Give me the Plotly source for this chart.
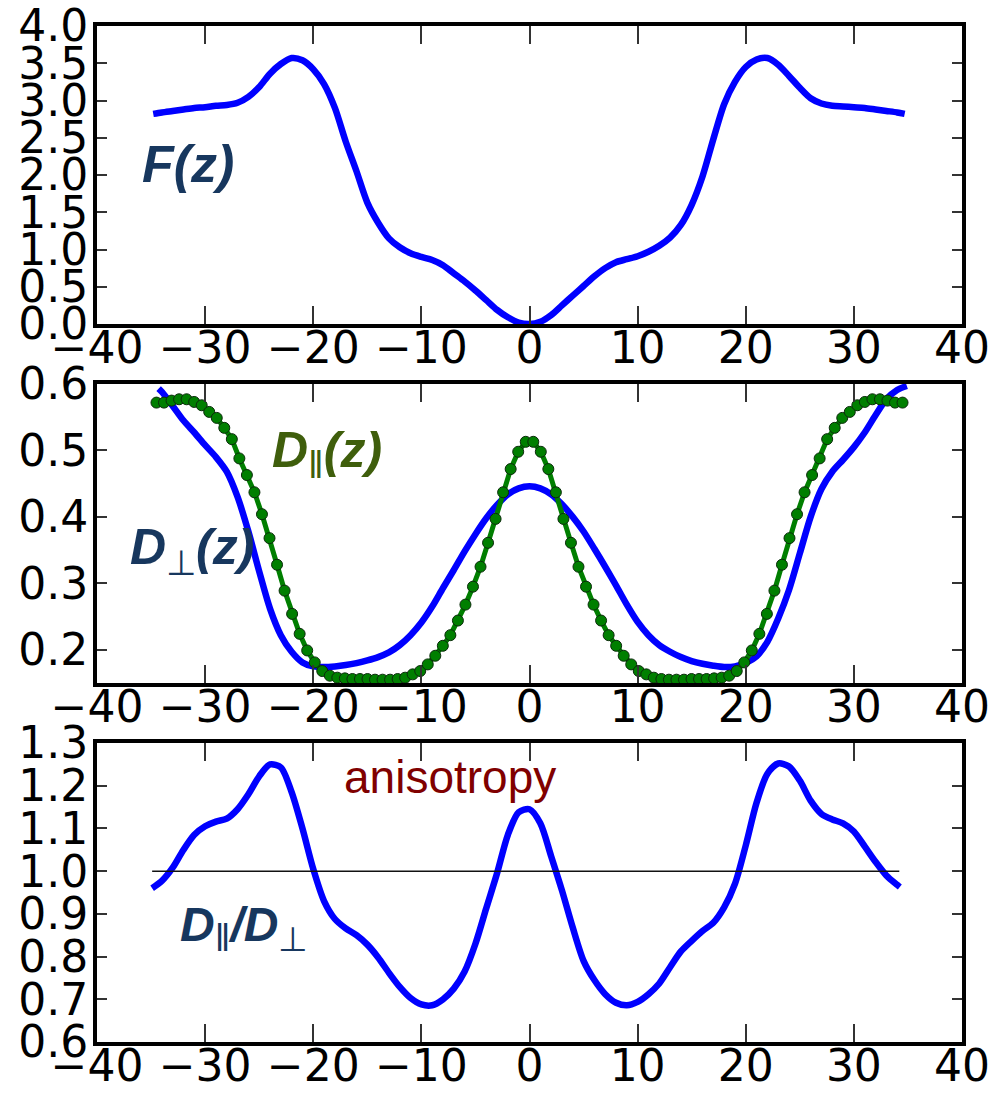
import numpy as np
import plotly.graph_objects as go

# ---------------- tick definitions ----------------
x_tick_vals = [-40, -30, -20, -10, 0, 10, 20, 30, 40]
x_tick_text = ["\u221240", "\u221230", "\u221220", "\u221210", "0", "10", "20", "30", "40"]

f_tick_vals = [0.0, 0.5, 1.0, 1.5, 2.0, 2.5, 3.0, 3.5, 4.0]
f_tick_text = ["0.0", "0.5", "1.0", "1.5", "2.0", "2.5", "3.0", "3.5", "4.0"]

d_tick_vals = [0.2, 0.3, 0.4, 0.5, 0.6]
d_tick_text = ["0.2", "0.3", "0.4", "0.5", "0.6"]

r_tick_vals = [0.6, 0.7, 0.8, 0.9, 1.0, 1.1, 1.2, 1.3]
r_tick_text = ["0.6", "0.7", "0.8", "0.9", "1.0", "1.1", "1.2", "1.3"]

# ---------------- data ----------------
# free energy F(z)
z_free = [-34.8] + list(range(-34, 35)) + [34.7]
free_energy = [2.82,
               2.84, 2.86, 2.88, 2.90, 2.91, 2.93, 2.94, 2.97, 3.05, 3.18,
               3.36, 3.49, 3.57, 3.54, 3.42, 3.22, 2.90, 2.45, 2.05, 1.63,
               1.36, 1.15, 1.03, 0.95, 0.90, 0.86, 0.79, 0.68, 0.57, 0.45,
               0.32, 0.19, 0.09, 0.02,
               0.00,
               0.03, 0.12, 0.25, 0.38, 0.51, 0.64, 0.75, 0.83, 0.87, 0.91,
               0.97, 1.05, 1.16, 1.33, 1.60, 1.98, 2.48, 2.95, 3.25, 3.45,
               3.55, 3.57, 3.48, 3.33, 3.17, 3.03, 2.96, 2.93, 2.92, 2.91,
               2.90, 2.88, 2.86, 2.84,
               2.82]

# perpendicular diffusion D_perp(z)
z_perp = [-34.3] + list(range(-34, 35)) + [34.9]
d_perp = [0.593,
          0.588, 0.567, 0.545, 0.527, 0.508, 0.490, 0.468, 0.430, 0.378, 0.318,
          0.262, 0.222, 0.197, 0.181, 0.175, 0.174, 0.175, 0.177, 0.180, 0.184,
          0.189, 0.196, 0.207, 0.222, 0.241, 0.265, 0.293, 0.320, 0.348, 0.374,
          0.398, 0.418, 0.434, 0.443,
          0.446,
          0.443, 0.434, 0.419, 0.400, 0.378, 0.352, 0.325, 0.297, 0.268, 0.242,
          0.222, 0.207, 0.197, 0.189, 0.183, 0.179, 0.176, 0.174, 0.175, 0.180,
          0.190, 0.212, 0.247, 0.290, 0.345, 0.400, 0.442, 0.468, 0.486, 0.505,
          0.527, 0.553, 0.577, 0.591,
          0.597]

# parallel diffusion D_par(z), sampled at 100 positions
z_par = np.linspace(-34.5, 34.5, 100)
d_par = [0.572, 0.572, 0.575, 0.577, 0.577, 0.573, 0.568, 0.558, 0.549, 0.534,
         0.517, 0.488, 0.463, 0.437, 0.404, 0.368, 0.328, 0.289, 0.254, 0.224,
         0.199, 0.181, 0.168, 0.161, 0.158, 0.157, 0.156, 0.156, 0.156, 0.155,
         0.155, 0.155, 0.156, 0.158, 0.163, 0.168, 0.178, 0.191, 0.206, 0.222,
         0.244, 0.268, 0.295, 0.325, 0.361, 0.397, 0.437, 0.472, 0.498, 0.513,
         0.513, 0.498, 0.472, 0.437, 0.397, 0.361, 0.325, 0.295, 0.268, 0.244,
         0.222, 0.206, 0.191, 0.178, 0.168, 0.163, 0.158, 0.156, 0.155, 0.155,
         0.155, 0.156, 0.156, 0.156, 0.157, 0.158, 0.161, 0.168, 0.181, 0.199,
         0.224, 0.254, 0.289, 0.328, 0.368, 0.404, 0.437, 0.463, 0.488, 0.517,
         0.534, 0.549, 0.558, 0.568, 0.573, 0.577, 0.577, 0.575, 0.572, 0.572]

# anisotropy D_par / D_perp
z_ratio = [-34.9] + list(range(-34, 35)) + [34.25]
ratio = [0.960,
         0.977, 1.008, 1.050, 1.085, 1.105, 1.116, 1.123, 1.145, 1.180, 1.222,
         1.250, 1.243, 1.185, 1.100, 1.005, 0.930, 0.888, 0.866, 0.850, 0.828,
         0.798, 0.762, 0.729, 0.703, 0.688, 0.686, 0.700, 0.725, 0.765, 0.830,
         0.913, 0.995, 1.085, 1.138,
         1.145,
         1.112, 1.035, 0.955, 0.868, 0.790, 0.745, 0.712, 0.692, 0.686, 0.694,
         0.712, 0.737, 0.775, 0.812, 0.837, 0.860, 0.879, 0.915, 0.970, 1.060,
         1.160, 1.228, 1.252, 1.245, 1.212, 1.165, 1.134, 1.121, 1.112, 1.093,
         1.058, 1.022, 0.990, 0.968,
         0.963]

ref_line_z = [-34.9, 34.2]
ref_line_val = [1.0, 1.0]

# ---------------- figure ----------------
W, H = 997, 1093
BLUE = "#0000ff"
GREEN = "#007f00"
NAVY = "#17375e"
OLIVE = "#3f5e0c"
DARKRED = "#800000"

fig = go.Figure()
spl = dict(shape="spline", smoothing=0.8)
fig.add_trace(go.Scatter(x=z_free, y=free_energy, mode="lines",
                         line=dict(color=BLUE, width=6.5, **spl), xaxis="x", yaxis="y"))
fig.add_trace(go.Scatter(x=z_perp, y=d_perp, mode="lines",
                         line=dict(color=BLUE, width=6.5, **spl), xaxis="x2", yaxis="y2"))
fig.add_trace(go.Scatter(x=z_par, y=d_par, mode="lines+markers",
                         line=dict(color=GREEN, width=5),
                         marker=dict(size=11, color=GREEN, line=dict(color="#0b2b0b", width=1)),
                         xaxis="x2", yaxis="y2"))
fig.add_trace(go.Scatter(x=z_ratio, y=ratio, mode="lines",
                         line=dict(color=BLUE, width=6.5, **spl), xaxis="x3", yaxis="y3"))
fig.add_trace(go.Scatter(x=ref_line_z, y=ref_line_val, mode="lines",
                         line=dict(color="#111111", width=1.5), xaxis="x3", yaxis="y3"))

xdom = [97 / W, 962 / W]
tickfont = dict(family="DejaVu Sans", size=44, color="black")


def xaxis(anchor):
    return dict(domain=xdom, range=[-40, 40], tickvals=x_tick_vals, ticktext=x_tick_text,
                ticks="inside", ticklen=18, tickwidth=1.5, tickcolor="#333333",
                showline=True, linecolor="black", linewidth=4, mirror="ticks",
                showgrid=False, zeroline=False, tickfont=tickfont, anchor=anchor,
                automargin=False, tickangle=0, ticklabelstandoff=-18)


def yaxis(anchor, top, bottom, rng, tv, tt):
    return dict(domain=[1 - bottom / H, 1 - top / H], range=rng, tickvals=tv, ticktext=tt,
                ticks="inside", ticklen=10, tickwidth=1.5, tickcolor="#333333",
                showline=True, linecolor="black", linewidth=4, mirror="ticks",
                showgrid=False, zeroline=False, tickfont=tickfont, anchor=anchor,
                automargin=False, ticklabelstandoff=-4)


fig.update_layout(
    width=W, height=H, margin=dict(l=0, r=0, t=0, b=0, autoexpand=False),
    paper_bgcolor="white", plot_bgcolor="white", showlegend=False,
    xaxis=xaxis("y"),
    xaxis2=xaxis("y2"),
    xaxis3=xaxis("y3"),
    yaxis=yaxis("x", 26, 324, [0, 4], f_tick_vals, f_tick_text),
    yaxis2=yaxis("x2", 384, 683, [0.15, 0.6], d_tick_vals, d_tick_text),
    yaxis3=yaxis("x3", 743, 1042, [0.6, 1.3], r_tick_vals, r_tick_text),
)

lab = dict(family="Liberation Sans, Arial, sans-serif", size=52, color=NAVY)
sub_par = "<sub><span style='font-size:38px'>\u2016</span></sub>"
sub_perp = "<sub>\u22a5</sub>"
fig.add_annotation(x=-36.0, y=2.15, xref="x", yref="y", xanchor="left", yanchor="middle",
                   text="<b><i>F(z)</i></b>", showarrow=False, font=lab)
fig.add_annotation(x=-37.1, y=0.35, xref="x2", yref="y2", xanchor="left", yanchor="middle",
                   text="<b><i>D</i></b>" + sub_perp + "<b><i>(z)</i></b>", showarrow=False,
                   font=dict(lab, size=50))
fig.add_annotation(x=-24.0, y=0.495, xref="x2", yref="y2", xanchor="left", yanchor="middle",
                   text="<b><i>D</i></b>" + sub_par + "<b><i>(z)</i></b>", showarrow=False,
                   font=dict(lab, size=50, color=OLIVE))
fig.add_annotation(x=-32.5, y=0.865, xref="x3", yref="y3", xanchor="left", yanchor="middle",
                   text="<b><i>D</i></b>" + sub_par + "<b><i>/D</i></b>" + sub_perp,
                   showarrow=False, font=dict(lab, size=48))
fig.add_annotation(x=-17.33, y=1.22, xref="x3", yref="y3", xanchor="left", yanchor="middle",
                   text="anisotropy", showarrow=False,
                   font=dict(family="Liberation Sans, Arial, sans-serif", size=46, color=DARKRED))

fig.write_html("out.html", config={"displayModeBar": False},
               post_script="document.body.style.margin='0px';")
